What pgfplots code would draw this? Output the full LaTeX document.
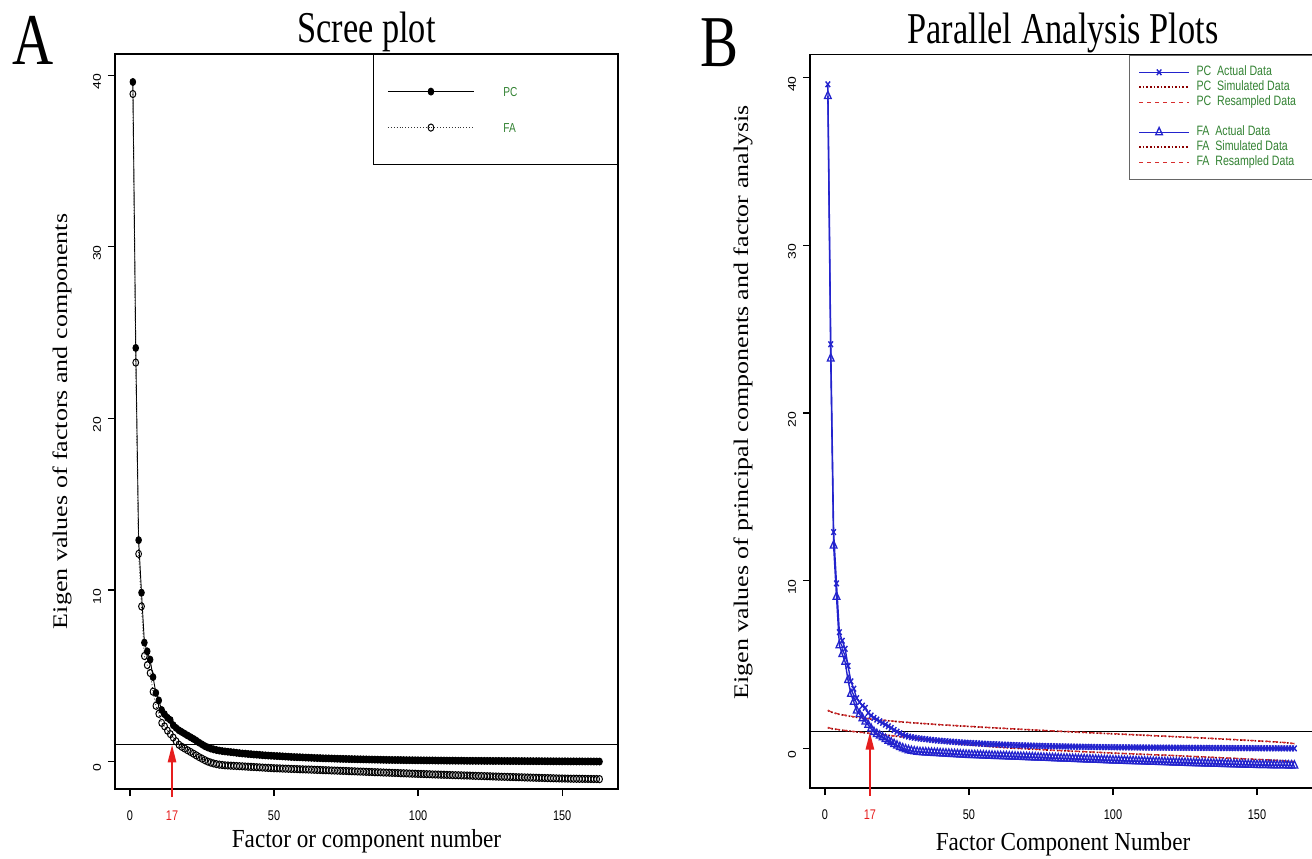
\documentclass[border=0pt]{standalone}
\usepackage{pgfplots}
\pgfplotsset{compat=1.18}
\usepackage{pgfplotstable}
\usepackage{fontspec}
\usepackage{graphicx}
\setmainfont{Liberation Serif}
\newfontfamily\arial{Liberation Sans}
\usetikzlibrary{arrows.meta}

\definecolor{rblue}{RGB}{35,35,205}
\definecolor{rred}{RGB}{215,45,45}
\definecolor{rarrow}{RGB}{230,30,30}
\definecolor{rdark}{RGB}{139,0,0}
\definecolor{rgreen}{RGB}{50,130,50}

\newcommand{\sqx}[1]{\scalebox{0.78}[1]{#1}}
\newcommand{\sqlab}[1]{\scalebox{0.89}[1]{#1}}
\newcommand{\sqy}[1]{\scalebox{1}[0.80]{#1}}

\pgfplotstableread{
x pc fa
1 39.6 38.9
2 24.1 23.25
3 12.9 12.1
4 9.84 9.04
5 6.93 6.15
6 6.42 5.62
7 5.94 5.16
8 4.92 4.07
9 4.00 3.25
10 3.56 2.78
11 3.00 2.25
12 2.76 2.05
13 2.55 1.80
14 2.42 1.60
15 2.12 1.40
16 1.96 1.18
17 1.82 0.98
18 1.72 0.86
19 1.62 0.76
20 1.52 0.66
21 1.42 0.56
22 1.32 0.46
23 1.22 0.36
24 1.10 0.26
25 1.00 0.17
26 0.90 0.08
27 0.82 0.00
28 0.76 -0.06
29 0.71 -0.11
30 0.67 -0.15
31 0.64 -0.18
32 0.61 -0.20
33 0.59 -0.22
34 0.57 -0.23
35 0.55 -0.24
36 0.53 -0.25
37 0.51 -0.26
38 0.49 -0.27
39 0.47 -0.28
40 0.46 -0.29
41 0.44 -0.30
42 0.43 -0.31
43 0.41 -0.32
44 0.40 -0.33
45 0.39 -0.34
46 0.37 -0.35
47 0.36 -0.36
48 0.35 -0.37
49 0.34 -0.38
50 0.33 -0.39
51 0.32 -0.395
52 0.31 -0.40
53 0.30 -0.41
54 0.29 -0.415
55 0.28 -0.42
56 0.27 -0.43
57 0.26 -0.435
58 0.255 -0.44
59 0.25 -0.45
60 0.24 -0.455
61 0.23 -0.46
62 0.225 -0.465
63 0.22 -0.47
64 0.21 -0.48
65 0.205 -0.485
66 0.20 -0.49
67 0.19 -0.50
68 0.185 -0.505
69 0.18 -0.51
70 0.175 -0.52
71 0.17 -0.525
72 0.165 -0.53
73 0.16 -0.54
74 0.155 -0.545
75 0.15 -0.55
76 0.145 -0.56
77 0.14 -0.565
78 0.137 -0.57
79 0.133 -0.58
80 0.13 -0.585
81 0.126 -0.59
82 0.122 -0.60
83 0.118 -0.605
84 0.115 -0.61
85 0.112 -0.62
86 0.108 -0.625
87 0.105 -0.63
88 0.102 -0.64
89 0.099 -0.645
90 0.096 -0.65
91 0.093 -0.66
92 0.090 -0.665
93 0.088 -0.67
94 0.085 -0.68
95 0.083 -0.685
96 0.080 -0.69
97 0.078 -0.70
98 0.076 -0.705
99 0.074 -0.71
100 0.072 -0.72
101 0.070 -0.725
102 0.068 -0.73
103 0.066 -0.735
104 0.064 -0.74
105 0.062 -0.75
106 0.061 -0.755
107 0.059 -0.76
108 0.058 -0.765
109 0.056 -0.77
110 0.055 -0.775
111 0.053 -0.78
112 0.052 -0.79
113 0.050 -0.795
114 0.049 -0.80
115 0.048 -0.805
116 0.046 -0.81
117 0.045 -0.815
118 0.044 -0.82
119 0.043 -0.83
120 0.042 -0.835
121 0.041 -0.84
122 0.040 -0.845
123 0.039 -0.85
124 0.038 -0.855
125 0.037 -0.86
126 0.036 -0.87
127 0.035 -0.875
128 0.034 -0.88
129 0.033 -0.885
130 0.032 -0.89
131 0.031 -0.895
132 0.030 -0.90
133 0.029 -0.905
134 0.028 -0.91
135 0.027 -0.915
136 0.026 -0.92
137 0.025 -0.925
138 0.024 -0.93
139 0.023 -0.935
140 0.022 -0.94
141 0.021 -0.945
142 0.020 -0.95
143 0.019 -0.955
144 0.018 -0.96
145 0.017 -0.965
146 0.016 -0.97
147 0.015 -0.975
148 0.014 -0.98
149 0.013 -0.985
150 0.012 -0.99
151 0.011 -0.992
152 0.010 -0.995
153 0.009 -0.998
154 0.008 -1.00
155 0.008 -1.002
156 0.007 -1.005
157 0.006 -1.008
158 0.005 -1.01
159 0.005 -1.012
160 0.004 -1.015
161 0.003 -1.018
162 0.002 -1.02
163 0.001 -1.025
}\actual

\pgfplotstableread{
x pcsim pcres fasim fares
1 2.26 2.28 1.24 1.25
2 2.18 2.19 1.19 1.20
3 2.12 2.13 1.16 1.17
5 2.03 2.04 1.11 1.12
10 1.88 1.89 1.00 1.01
15 1.77 1.78 0.91 0.92
20 1.68 1.69 0.82 0.83
25 1.60 1.61 0.72 0.73
30 1.53 1.54 0.62 0.63
40 1.41 1.42 0.42 0.43
50 1.31 1.32 0.22 0.23
60 1.21 1.22 0.07 0.08
70 1.12 1.13 -0.03 -0.02
80 1.03 1.04 -0.12 -0.11
90 0.95 0.96 -0.20 -0.19
100 0.87 0.88 -0.28 -0.27
110 0.79 0.80 -0.35 -0.34
120 0.71 0.72 -0.42 -0.41
130 0.63 0.64 -0.50 -0.49
140 0.54 0.55 -0.58 -0.57
150 0.45 0.46 -0.66 -0.65
155 0.40 0.41 -0.70 -0.69
160 0.34 0.35 -0.75 -0.74
163 0.28 0.29 -0.79 -0.78
}\simul

\pgfplotsset{
  rstyle/.style={
    scale only axis,
    clip=false,
    axis line style={line width=0.7pt},
    tick style={black, line width=0.6pt},
    tick align=outside,
    tick pos=left,
    major tick length=3.5pt,
    xtick={0,50,100,150},
    ytick={0,10,20,30,40},
    xticklabel={\sqx{\pgfmathprintnumber[assume math mode=true]{\tick}}},
    yticklabel={\sqy{\pgfmathprintnumber[assume math mode=true]{\tick}}},
    ticklabel style={font=\arial\fontsize{7}{8}\selectfont},
    xticklabel style={yshift=-3.7pt},
    yticklabel style={rotate=90, anchor=south, xshift=-3.2pt},
    label style={font=\fontsize{13}{15}\selectfont},
    title style={font=\fontsize{22}{24}\selectfont, at={(axis description cs:0.5,1)}, anchor=base, yshift=-0.5pt},
    extra y ticks={1},
    extra y tick labels={},
    extra y tick style={grid=major, major grid style={black, line width=0.5pt}, tick style={draw=none}},
  }
}

\begin{document}
\begin{tikzpicture}
\useasboundingbox (0,0) rectangle (656pt,429pt);

\node[anchor=base west, inner sep=0pt, font=\fontsize{36.5}{38}\selectfont] at (6pt,396.5pt) {\sqx{A}};
\node[anchor=base west, inner sep=0pt, font=\fontsize{36.5}{38}\selectfont] at (350pt,395.5pt) {\sqx{B}};

% ---------------- Panel A ----------------
\begin{axis}[rstyle,
  at={(57.5pt,34.5pt)}, anchor=south west,
  width=251.5pt, height=367.5pt,
  xmin=-5.2, xmax=169.4, ymin=-1.6, ymax=41.23,
  title={\sqx{Scree plot}},
  xlabel={\sqlab{Factor or component number}},
  ylabel={\sqy{Eigen values of factors and components}},
  xlabel style={at={(axis description cs:0.5,0)}, anchor=center, yshift=-26pt},
  ylabel style={at={(axis description cs:-0.1054,0.5)}, anchor=center},
  extra x ticks={14.6},
  extra x tick labels={\sqx{17}},
  extra x tick style={tick style={draw=none}, xticklabel style={text=rarrow}},
  legend style={at={(1,1)}, anchor=north east, draw=black, line width=0.6pt,
    font=\arial\fontsize{6.5}{7}\selectfont,
    inner xsep=7pt, inner ysep=14pt, row sep=9pt, column sep=12.5pt,
    nodes={inner xsep=2pt, inner ysep=2pt, text height=5pt, text depth=0pt}},
  legend image code/.code={\draw[mark repeat=2,mark phase=2,#1] plot coordinates {(0pt,0pt) (21.5pt,0pt) (43pt,0pt)};},
]
\addplot[black, line width=0.45pt, mark=*, mark size=1.75pt, mark options={solid, fill=black, xscale=0.8}] table[x=x, y=pc] {\actual};
\addlegendentry{\makebox[48pt][l]{\textcolor{rgreen}{\sqx{PC}}}}
\addplot[black!80, line width=0.45pt, densely dotted, mark=o, mark size=1.8pt, mark options={solid, black, line width=0.5pt, xscale=0.8}] table[x=x, y=fa] {\actual};
\addlegendentry{\makebox[48pt][l]{\textcolor{rgreen}{\sqx{FA}}}}
\draw[rarrow, line width=1.35pt, -{Triangle[width=4pt,length=9pt]}] (axis cs:14.6,-2.07) -- (axis cs:14.6,1);
\end{axis}

% ---------------- Panel B ----------------
\begin{axis}[rstyle,
  at={(405pt,35pt)}, anchor=south west,
  width=253pt, height=366.6pt,
  xmin=-5.2, xmax=170.5, ymin=-2.36, ymax=41.36,
  title={\sqx{Parallel Analysis Plots}},
  xlabel={\sqlab{Factor Component Number}},
  ylabel={\sqy{Eigen values of principal components and factor analysis}},
  xlabel style={at={(axis description cs:0.5,0)}, anchor=center, yshift=-28pt},
  ylabel style={at={(axis description cs:-0.1324,0.526)}, anchor=center},
  extra x ticks={15.6},
  extra x tick labels={\sqx{17}},
  extra x tick style={tick style={draw=none}, xticklabel style={text=rarrow}},
  legend style={at={(1,1)}, anchor=north east, draw=black!60, line width=0.5pt,
    font=\arial\fontsize{6.8}{7}\selectfont,
    inner xsep=4.5pt, inner ysep=4.75pt, row sep=0pt, column sep=1.3pt,
    nodes={inner xsep=2pt, inner ysep=0.5pt, text height=5pt, text depth=1.5pt}},
  legend image code/.code={\draw[mark repeat=2,mark phase=2,#1] plot coordinates {(0pt,0pt) (10pt,0pt) (25pt,0pt)};},
]
\addplot[rblue, line width=0.7pt, mark=x, mark size=2pt, mark options={solid, line width=0.7pt, xscale=0.8}] table[x=x, y=pc] {\actual};
\addlegendentry{\makebox[53pt][l]{\textcolor{rgreen}{\sqx{PC\ \ Actual Data}}}}
\addplot[rdark, line width=0.8pt, densely dotted] table[x=x, y=pcsim] {\simul};
\addlegendentry{\makebox[53pt][l]{\textcolor{rgreen}{\sqx{PC\ \ Simulated Data}}}}
\addplot[rred, line width=0.6pt, dash pattern=on 2pt off 2pt] table[x=x, y=pcres] {\simul};
\addlegendentry{\makebox[53pt][l]{\textcolor{rgreen}{\sqx{PC\ \ Resampled Data}}}}
\addlegendimage{empty legend}
\addlegendentry{}
\addplot[rblue, line width=0.7pt, mark=triangle, mark size=2.4pt, mark options={solid, line width=0.65pt, xscale=0.8}] table[x=x, y=fa] {\actual};
\addlegendentry{\makebox[53pt][l]{\textcolor{rgreen}{\sqx{FA\ \ Actual Data}}}}
\addplot[rdark, line width=0.8pt, densely dotted] table[x=x, y=fasim] {\simul};
\addlegendentry{\makebox[53pt][l]{\textcolor{rgreen}{\sqx{FA\ \ Simulated Data}}}}
\addplot[rred, line width=0.6pt, dash pattern=on 2pt off 2pt] table[x=x, y=fares] {\simul};
\addlegendentry{\makebox[53pt][l]{\textcolor{rgreen}{\sqx{FA\ \ Resampled Data}}}}
\draw[rarrow, line width=1.35pt, -{Triangle[width=4pt,length=9pt]}] (axis cs:15.6,-2.83) -- (axis cs:15.6,1);
\end{axis}
\end{tikzpicture}
\end{document}
